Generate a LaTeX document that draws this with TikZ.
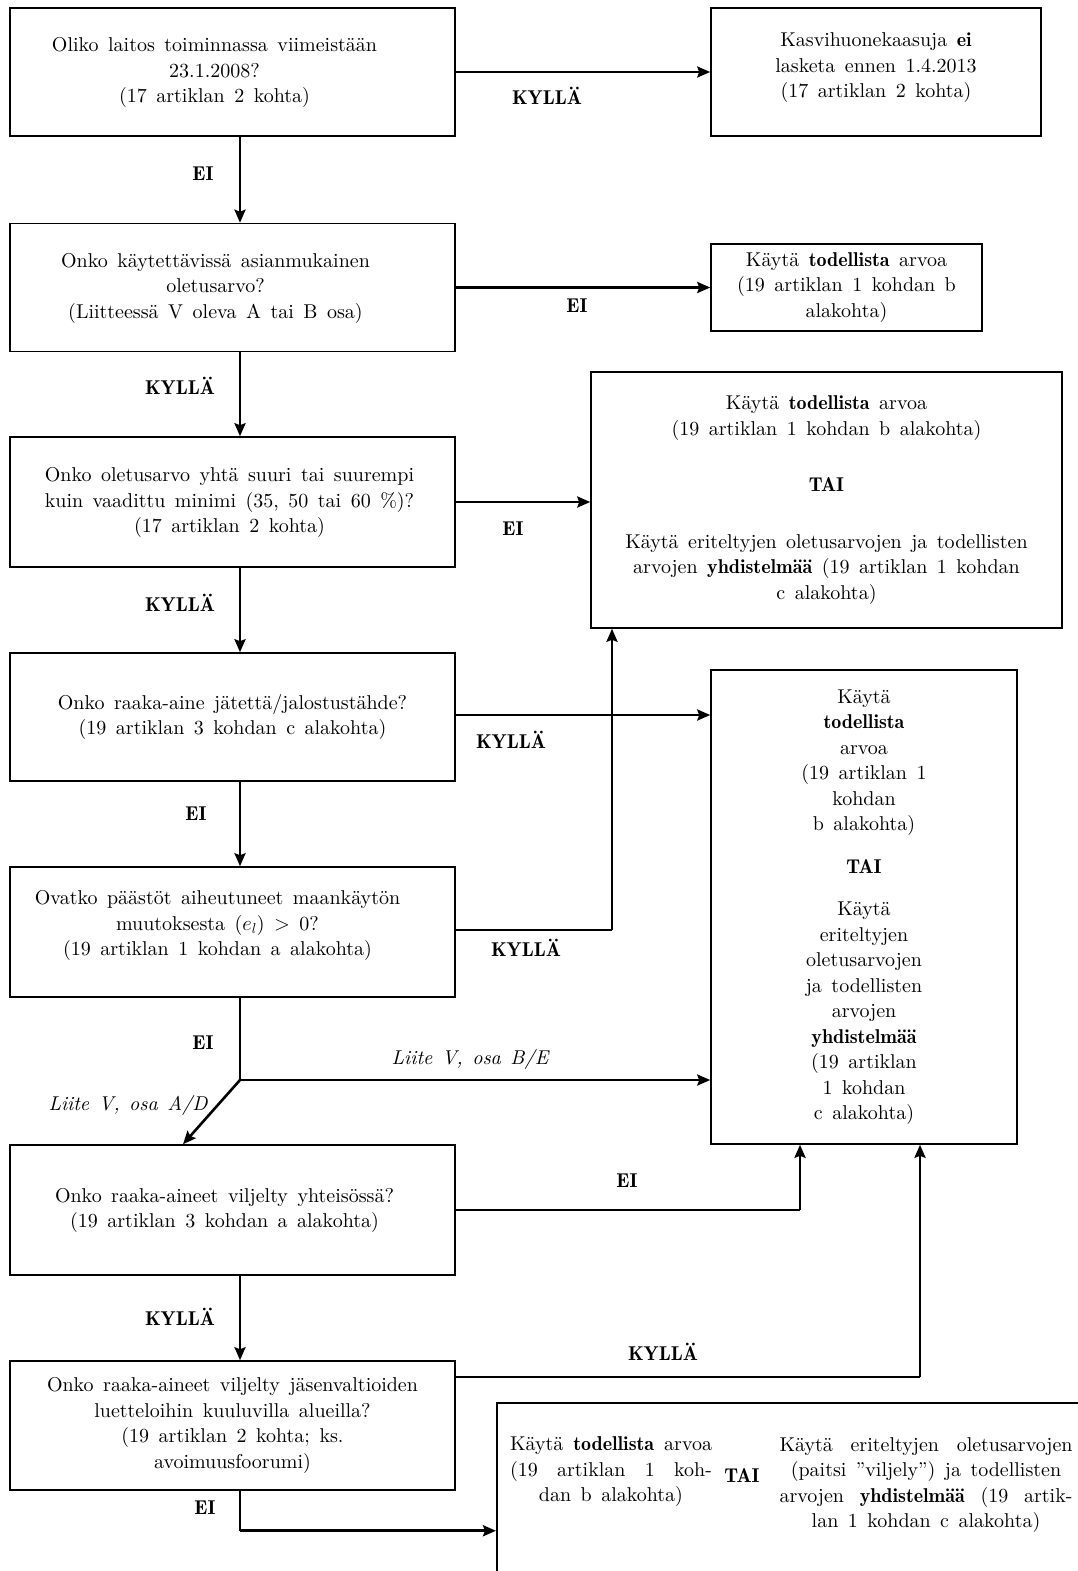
\documentclass[tikz,border=0pt]{standalone}
\usepackage{fontspec}
\setmainfont{lmroman10-regular}[Extension=.otf, BoldFont=lmromandemi10-regular, ItalicFont=lmroman10-italic, BoldItalicFont=lmromandemi10-oblique]
\usepackage{tikz}
\usetikzlibrary{arrows.meta,positioning}
\newcommand{\boxfont}{\fontsize{20}{25.5}\selectfont\spaceskip=9.5pt plus 3pt minus 2pt\relax}
% centred lines, set a little left of the box centre
\newcommand{\leftset}[2]{\begin{tabular}{@{}c@{\hspace{#1}}}#2\end{tabular}}

\begin{document}
\begin{tikzpicture}[x=1pt, y=-1pt, >={Stealth[length=13pt,width=11pt,inset=2pt]},
    every node/.style={font=\boxfont},
    qbox/.style={draw, line width=1.5pt, minimum width=445pt, minimum height=128pt, align=center, inner sep=0pt},
    rbox/.style={draw, line width=1.5pt, align=center, inner sep=0pt},
    flow/.style={line width=2.6pt},
    thinflow/.style={line width=1.4pt},
    lbl/.style={font=\boxfont\bfseries},
    via/.style={font=\boxfont\itshape}]
    \useasboundingbox (0,0) rectangle (1078,1571);
    \clip (0,0) rectangle (1078,1571);

    % question column
    \node[qbox] (q1) at (232.5,72) {\leftset{36pt}{Oliko laitos toiminnassa viimeistään\\23.1.2008?\\(17 artiklan 2 kohta)}};
    \node[qbox] (q2) at (232.5,287.5) {\leftset{34pt}{Onko käytettävissä asianmukainen\\oletusarvo?\\(Liitteessä V oleva A tai B osa)}};
    \node[qbox, minimum height=130pt] (q3) at (232.5,502) {\leftset{6pt}{Onko oletusarvo yhtä suuri tai suurempi\\kuin vaadittu minimi (35, 50 tai 60 \%)?\\(17 artiklan 2 kohta)}};
    \node[qbox] (q4) at (232.5,717) {Onko raaka-aine jätettä/jalostustähde?\\(19 artiklan 3 kohdan c alakohta)};
    \node[qbox, minimum height=130pt] (q5) at (232.5,932) {\leftset{30pt}{Ovatko päästöt aiheutuneet maankäytön\\muutoksesta ($e_l$) $>$ 0?\\(19 artiklan 1 kohdan a alakohta)\\[14pt]}};
    \node[qbox, minimum height=130pt] (q6) at (232.5,1210) {\leftset{16pt}{Onko raaka-aineet viljelty yhteisössä?\\(19 artiklan 3 kohdan a alakohta)}};
    \node[qbox, minimum height=129pt] (q7) at (232.5,1425.5) {Onko raaka-aineet viljelty jäsenvaltioiden\\luetteloihin kuuluvilla alueilla?\\(19 artiklan 2 kohta; ks.\\avoimuusfoorumi)};

    % result boxes
    \node[rbox, minimum width=330pt, minimum height=128pt] (r1) at (876,72) {Kasvihuonekaasuja \textbf{ei}\\lasketa ennen 1.4.2013\\(17 artiklan 2 kohta)\\[-12pt]};
    \node[rbox, minimum width=271pt, minimum height=87pt] (r2) at (846.5,287.5) {Käytä \textbf{todellista} arvoa\\(19 artiklan 1 kohdan b\\alakohta)};
    \node[rbox, minimum width=471pt, minimum height=256pt] (r3) at (826.5,500) {Käytä \textbf{todellista} arvoa\\(19 artiklan 1 kohdan b alakohta)\\[31pt]\textbf{TAI}\\[31pt]Käytä eriteltyjen oletusarvojen ja todellisten\\arvojen \textbf{yhdistelmää} (19 artiklan 1 kohdan\\c alakohta)};
    \node[rbox, minimum width=306pt, minimum height=474pt] (r4) at (864,907) {Käytä\\\textbf{todellista}\\arvoa\\(19 artiklan 1\\kohdan\\b alakohta)\\[17pt]\textbf{TAI}\\[17pt]Käytä\\eriteltyjen\\oletusarvojen\\ja todellisten\\arvojen\\\textbf{yhdistelmää}\\(19 artiklan\\1 kohdan\\c alakohta)};
    \node[rbox, anchor=north west, minimum width=640pt, minimum height=256pt] (r5) at (496,1402) {};
    \node[align=center] (r5a) at (611,1472) {\makebox[202pt][s]{Käytä \textbf{todellista} arvoa}\\\makebox[202pt][s]{(19 artiklan 1 koh-}\\dan b alakohta)};
    \node[lbl] (r5or) at (742,1476) {TAI};
    \node[align=center] (r5b) at (926,1485) {\makebox[293pt][s]{Käytä eriteltyjen oletusarvojen}\\(paitsi ''viljely'') ja todellisten\\\makebox[293pt][s]{arvojen \textbf{yhdistelmää} (19 artik-}\\lan 1 kohdan c alakohta)};

    % helper coordinates
    \coordinate (spine) at (240,0);
    \coordinate (fork) at (240,1080);
    \coordinate (diag) at (183,0);
    \coordinate (up5) at (612,0);
    \coordinate (up6) at (800,0);
    \coordinate (up7) at (920,0);
    \coordinate (out7) at (0,1377);

    % connectors
    \draw[flow, ->] (q1) -- (r1);
    \draw[flow, ->] (q1.south -| spine) -- (q2.north -| spine);
    \draw[flow, ->] (q2.east) -- (q2.east -| r2.west);
    \draw[flow, ->] (q2.south -| spine) -- (q3.north -| spine);
    \draw[flow, ->] (q3.east) -- (q3.east -| r3.west);
    \draw[flow, ->] (q3.south -| spine) -- (q4.north -| spine);
    \draw[flow, ->] ([yshift=2pt]q4.east) -- ([yshift=2pt]q4.east -| r4.west);
    \draw[flow, ->] (q4.south -| spine) -- (q5.north -| spine);
    \draw[thinflow] ([yshift=2pt]q5.east) -- ([yshift=2pt]q5.east -| up5);
    \draw[flow, ->] ([yshift=2pt]q5.east -| up5) -- (up5 |- r3.south);
    \draw[thinflow] (q5.south -| spine) -- (fork);
    \draw[flow, ->] (fork) -- (fork -| r4.west);
    \draw[flow, ->] (fork) -- (q6.north -| diag);
    \draw[thinflow] (q6.east) -- (q6.east -| up6);
    \draw[flow, ->] (q6.east -| up6) -- (up6 |- r4.south);
    \draw[flow, ->] (q6.south -| spine) -- (q7.north -| spine);
    \draw[thinflow] (q7.east |- out7) -- (out7 -| up7);
    \draw[flow, ->] (out7 -| up7) -- (up7 |- r4.south);
    \draw[thinflow] (q7.south -| spine) -- (spine |- r5.west);
    \draw[flow, ->] (spine |- r5.west) -- (r5.west);

    % connector labels
    \node[lbl] (yes1) at (547,96) {KYLLÄ};
    \node[lbl] (no1) at (203,174) {EI};
    \node[lbl] (no2) at (577,306) {EI};
    \node[lbl] (yes2) at (180,386) {KYLLÄ};
    \node[lbl] (no3) at (513,529) {EI};
    \node[lbl] (yes3) at (180,603) {KYLLÄ};
    \node[lbl] (yes4) at (511,740) {KYLLÄ};
    \node[lbl] (no4) at (196,814) {EI};
    \node[lbl] (yes5) at (526,948) {KYLLÄ};
    \node[lbl] (no5) at (203,1043) {EI};
    \node[via] (partBE) at (470,1059) {Liite V, osa B/E};
    \node[via] (partAD) at (128,1105) {Liite V, osa A/D};
    \node[lbl] (no6) at (627,1181) {EI};
    \node[lbl] (yes6) at (180,1317) {KYLLÄ};
    \node[lbl] (yes7) at (663,1352) {KYLLÄ};
    \node[lbl] (no7) at (205,1508) {EI};
\end{tikzpicture}
\end{document}
